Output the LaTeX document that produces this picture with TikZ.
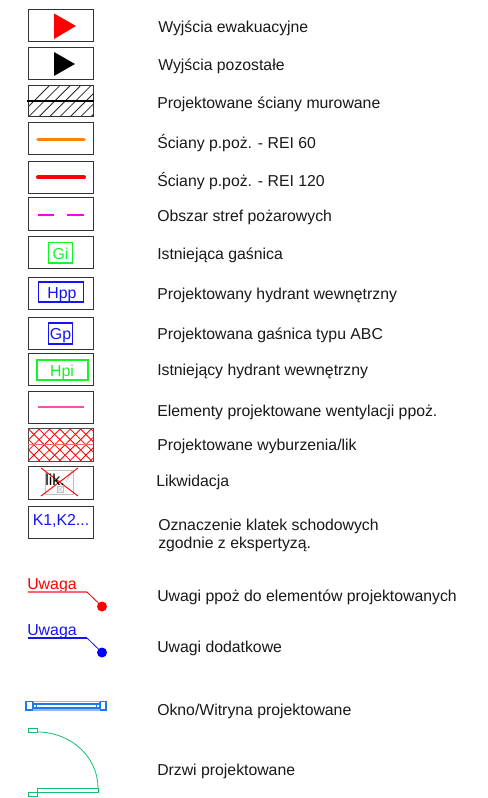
\documentclass[tikz,border=0pt]{standalone}
\usepackage{fontspec}
\setmainfont{Liberation Sans}
\definecolor{gblue}{RGB}{20,20,245}
\definecolor{ggreen}{RGB}{20,245,40}
\definecolor{winblue}{RGB}{30,120,240}
\definecolor{doorgreen}{RGB}{20,190,110}
\definecolor{orangeline}{RGB}{255,128,10}
\definecolor{pinkline}{RGB}{255,80,170}
\definecolor{magline}{RGB}{255,0,240}
\tikzset{
  x=0.75pt,y=-0.75pt,
  keybox/.style={draw=black!80,line width=0.75pt,fill=white},
  lab/.style={anchor=west,inner sep=0pt,font=\fontsize{11.85pt}{13.6pt}\selectfont,align=left,text=black!90},
  tagtext/.style={inner sep=0pt,font=\fontsize{11.9pt}{13pt}\selectfont},
  tagbox/.style={line width=0.85pt},
}
\newcommand{\kbox}[2]{\draw[keybox] (28,#1) rectangle (93,#2);}
\begin{document}
\begin{tikzpicture}
\useasboundingbox (0,0) rectangle (487,798);
\fill[white] (0,0) rectangle (487,798);
% boxes
\kbox{10}{42}
\kbox{48}{80}
\kbox{123}{155}
\kbox{162}{194}
\kbox{198}{231}
\kbox{237}{269}
\kbox{277}{309}
\kbox{317}{349}
\kbox{353}{385}
\kbox{391}{423}
\kbox{466}{499}
\kbox{506}{538}
% triangles
\fill[red] (54,13.5) -- (76,26) -- (54,39) -- cycle;
\fill[black] (54,52) -- (75,64) -- (54,76) -- cycle;
% hatched wall
\begin{scope}
\clip (28,86) rectangle (93,117);
\foreach \i in {0,...,8}{
  \draw[black!85,line width=0.6pt] (18+10.4*\i,117) -- ++(31,-31);
}
\end{scope}
\draw[keybox,fill=none] (28,86) rectangle (93,117);
\draw[black,line width=1.5pt] (27,101.5) -- (94,101.5);
% lines
\draw[orangeline,line width=2.7pt,line cap=round] (38,139.5) -- (84,139.5);
\draw[red,line width=3pt,line cap=round] (38,177.5) -- (84,177.5);
\draw[magline,line width=1.5pt] (38,215) -- (54,215);
\draw[magline,line width=1.5pt] (67,215) -- (84,215);
\draw[pinkline,line width=1.2pt] (38,407) -- (84,407);
% tags
\draw[tagbox,ggreen] (48.5,242.5) rectangle (72.5,263);
\node[tagtext,text=ggreen,anchor=base] (tgi) at (60.5,259) {Gi};
\draw[tagbox,gblue] (38.5,282) rectangle (83.5,302);
\node[tagtext,text=gblue,anchor=base] (thpp) at (62,298) {Hpp};
\draw[tagbox,gblue] (48.5,323) rectangle (72.5,344);
\node[tagtext,text=gblue,anchor=base] (tgp) at (60.5,339) {Gp};
\draw[tagbox,ggreen] (37,360) rectangle (88,380);
\node[tagtext,text=ggreen,anchor=base] (thpi) at (62,376) {Hpi};
% demolition hatch
\begin{scope}
\clip (28,428.5) rectangle (93,461);
\foreach \i in {-3,...,8}{
  \draw[red,line width=0.6pt] (28+10.4*\i,461) -- ++(32.5,-32.5);
  \draw[red,line width=0.6pt] (28+10.4*\i,428.5) -- ++(32.5,32.5);
}
\end{scope}
\draw[draw=black!70,line width=0.75pt] (28,428.5) rectangle (93,461);
\draw[red!60,line width=0.7pt] (28,444.5) -- (93,444.5);
% likwidacja
\draw[black!25,line width=0.6pt] (45,470) rectangle (73,494);
\draw[black!25,line width=0.5pt] (57,486.5) rectangle (63,492.5);
\draw[black!25,line width=0.4pt] (57,486.5) -- (63,492.5) (57,492.5) -- (63,486.5);
\draw[black!25,line width=0.5pt] (66,482) -- (72,471);
\draw[red,line width=0.7pt] (41,468) -- (78,496);
\draw[red,line width=0.7pt] (78,468) -- (41,496);
\node[tagtext,text=black,anchor=base] (tlik) at (55,485.5) {lik.};
% stairs
\node[tagtext,text=gblue,anchor=base] (tk) at (61,525) {K1,K2...};
% notes
\node[tagtext,text=red,anchor=base west] (tur) at (27,589) {Uwaga};
\coordinate (dr) at (102,606.5);
\draw[red!60,line width=1.1pt] (28,592) -- (87,592);
\draw[red!85!black,line width=0.6pt] (87,592) -- (dr);
\fill[red] (dr) circle[radius=5];
\node[tagtext,text=gblue,anchor=base west] (tub) at (27,635) {Uwaga};
\coordinate (db) at (102,652.5);
\draw[gblue,line width=0.9pt] (28,638) -- (87,638);
\draw[gblue,line width=0.6pt] (87,638) -- (db);
\fill[blue] (db) circle[radius=5];
% window
\draw[winblue,line width=0.8pt] (26,701.5) rectangle (33,710);
\draw[winblue,line width=0.8pt] (100,701.5) rectangle (106,710);
\draw[winblue!50,line width=0.8pt] (33,701.5) -- (100,701.5) (33,710) -- (100,710);
\draw[winblue,line width=0.8pt] (33,704) rectangle (100,708);
\draw[winblue,line width=0.6pt] (33,704) rectangle (36,708);
\draw[winblue,line width=0.6pt] (96,704) rectangle (100,708);
% door
\draw[doorgreen,line width=0.6pt] (28,728) rectangle (37.5,732);
\draw[doorgreen,line width=0.6pt] (37.5,732) arc[start angle=90,end angle=0,x radius=60.5,y radius=-56];
\draw[doorgreen,line width=0.7pt] (37.5,788) rectangle (98,792);
\draw[doorgreen,line width=0.6pt] (28,792) rectangle (37.5,796);
% labels
\node[lab] (l1) at (158,28) {Wyjścia ewakuacyjne};
\node[lab] (l2) at (158,66) {Wyjścia pozostałe};
\node[lab] (l3) at (157,104) {Projektowane ściany murowane};
\node[lab] (l4) at (157,143) {Ściany p.poż. - REI 60};
\node[lab] (l5) at (157,181) {Ściany p.poż. - REI 120};
\node[lab] (l6) at (157,217) {Obszar stref pożarowych};
\node[lab] (l7) at (157,255) {Istniejąca gaśnica};
\node[lab] (l8) at (157,295) {Projektowany hydrant wewnętrzny};
\node[lab] (l9) at (157,335) {Projektowana gaśnica typu ABC};
\node[lab] (l10) at (157,371) {Istniejący hydrant wewnętrzny};
\node[lab] (l11) at (157,412) {Elementy projektowane wentylacji ppoż.};
\node[lab] (l12) at (157,446) {Projektowane wyburzenia/lik};
\node[lab] (l13) at (156,482) {Likwidacja};
\node[lab] (l14) at (158,535) {Oznaczenie klatek schodowych\\zgodnie z ekspertyzą.};
\node[lab] (l15) at (157,597) {Uwagi ppoż do elementów projektowanych};
\node[lab] (l16) at (157,648) {Uwagi dodatkowe};
\node[lab] (l17) at (157,711) {Okno/Witryna projektowane};
\node[lab] (l18) at (157,771) {Drzwi projektowane};
\end{tikzpicture}
\end{document}
